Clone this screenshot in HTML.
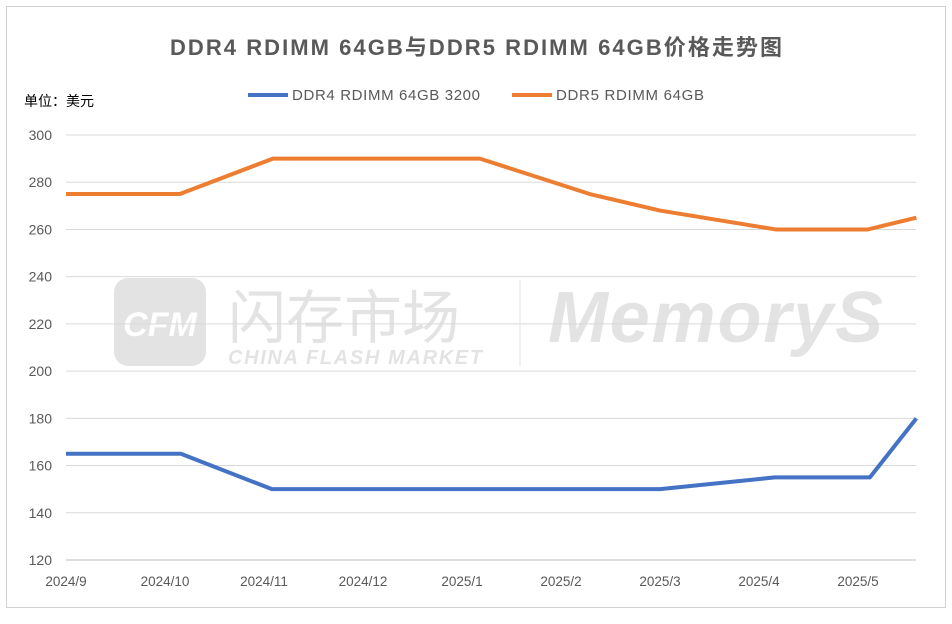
<!DOCTYPE html>
<html><head><meta charset="utf-8"><style>
body{margin:0;background:#fff;width:952px;height:619px;overflow:hidden;font-family:"Liberation Sans","Noto Sans CJK SC",sans-serif}
</style></head><body>
<svg width="952" height="619" id="c">
<rect x="6.5" y="6.5" width="939" height="601" fill="#fff" stroke="#d0d0d0"/>
<text x="476" y="55" text-anchor="middle" font-size="22" font-weight="bold" fill="#595959" textLength="612" font-family="Liberation Sans,Noto Sans CJK SC,sans-serif">DDR4 RDIMM 64GB与DDR5 RDIMM 64GB价格走势图</text>
<text x="24" y="106" font-size="14" fill="#000" font-family="Liberation Sans,Noto Sans CJK SC,sans-serif">单位：美元</text>
<g>
<line x1="248" y1="95" x2="288" y2="95" stroke="#4472c4" stroke-width="4"/>
<text x="292" y="100" font-size="15" fill="#595959" textLength="188">DDR4 RDIMM 64GB 3200</text>
<line x1="512" y1="95" x2="552" y2="95" stroke="#ed7d31" stroke-width="4"/>
<text x="556" y="100" font-size="15" fill="#595959" textLength="148">DDR5 RDIMM 64GB</text>
</g>
<g opacity="0.35">
<rect x="114" y="278" width="92" height="88" rx="14" fill="#b0b0b0"/>
<text x="160" y="336" text-anchor="middle" font-size="34" font-weight="bold" fill="#fff" font-style="italic">CFM</text>
<text x="228" y="338" font-size="58" fill="#b0b0b0" font-family="Noto Sans CJK SC,sans-serif">闪存市场</text>
<text x="228" y="364" font-size="20" font-style="italic" fill="#b0b0b0" font-weight="bold" textLength="254">CHINA FLASH MARKET</text>
<line x1="520" y1="280" x2="520" y2="366" stroke="#b0b0b0"/>
<text x="548" y="342" font-size="72" font-weight="bold" font-style="italic" fill="#b0b0b0" textLength="335">MemoryS</text>
</g>
<g id="grid"></g><g id="axes"></g><g id="series"></g>
</svg>
<script>
const yTicks=[120,140,160,180,200,220,240,260,280,300];
const xLabels=["2024/9","2024/10","2024/11","2024/12","2025/1","2025/2","2025/3","2025/4","2025/5"];
const dates=[0,1.15,2.09,4.18,5.29,6.0,7.17,8.1,8.59];
const ddr5=[275,275,290,290,275,268,260,260,265];
const ddr4Dates=[0,1.16,2.08,6.0,7.16,8.12,8.59];
const ddr4=[165,165,150,150,155,155,180];
const NS="http://www.w3.org/2000/svg";
const X=m=>66+m*99;
const Y=v=>560-(v-120)*(425/180);
function mk(t,a,p){const e=document.createElementNS(NS,t);for(const k in a)e.setAttribute(k,a[k]);p.appendChild(e);return e;}
const g=document.getElementById('grid'),ax=document.getElementById('axes'),s=document.getElementById('series');
yTicks.forEach(v=>{
 const l=mk('line',{x1:66,x2:916,y1:Y(v),y2:Y(v),stroke:v===120?'#bfbfbf':'#d9d9d9','stroke-width':1},g);
 
 
 const t=mk('text',{x:52,y:Y(v)+5,'text-anchor':'end','font-size':14,fill:'#595959'},ax);
 t.textContent=v;
 
 
});
xLabels.forEach((lab,i)=>{
 const t=mk('text',{x:X(i),y:586,'text-anchor':'middle','font-size':13.5,fill:'#595959'},ax);
 t.textContent=lab;
 
 
});
function line(xs,vs,col,name){
 const p=mk('polyline',{points:xs.map((d,i)=>X(d)+','+Y(vs[i])).join(' '),fill:'none',stroke:col,'stroke-width':4,'stroke-linejoin':'round'},s);
 
 
}
line(dates,ddr5,'#ed7d31','ddr5-line');
line(ddr4Dates,ddr4,'#4472c4','ddr4-line');
</script>
</body></html>
